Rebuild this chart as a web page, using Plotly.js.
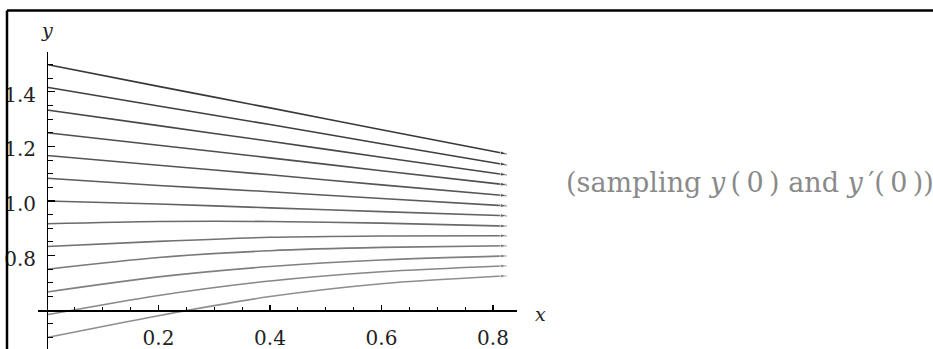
<!DOCTYPE html>
<html>
<head>
<meta charset="utf-8">
<script src="https://cdn.plot.ly/plotly-3.0.1.min.js"></script>
<style>html,body{margin:0;padding:0;background:#fff;}#chart{width:933px;height:349px;}</style>
</head>
<body>
<div id="chart"></div>
<script>
// sample x positions of each solution curve
const xs = [0, 0.2, 0.4, 0.6, 0.825];
// solution curves, one per sampled initial condition (top to bottom)
const curve1  = [1.5000, 1.420, 1.341, 1.261, 1.172];
const curve2  = [1.4167, 1.348, 1.280, 1.210, 1.132];
const curve3  = [1.3333, 1.276, 1.219, 1.160, 1.095];
const curve4  = [1.2500, 1.204, 1.158, 1.111, 1.059];
const curve5  = [1.1667, 1.131, 1.096, 1.059, 1.019];
const curve6  = [1.0833, 1.057, 1.034, 1.009, 0.982];
const curve7  = [1.0000, 0.989, 0.975, 0.961, 0.946];
const curve8  = [0.9167, 0.925, 0.925, 0.919, 0.908];
const curve9  = [0.8333, 0.852, 0.867, 0.872, 0.873];
const curve10 = [0.7500, 0.793, 0.818, 0.830, 0.836];
const curve11 = [0.6667, 0.722, 0.760, 0.784, 0.799];
const curve12 = [0.5833, 0.654, 0.707, 0.741, 0.763];
const curve13 = [0.5000, 0.580, 0.650, 0.697, 0.726];
const curves = [curve1, curve2, curve3, curve4, curve5, curve6, curve7,
                curve8, curve9, curve10, curve11, curve12, curve13];
const xTicks = [0.2, 0.4, 0.6, 0.8];
const xTickText = ['0.2', '0.4', '0.6', '0.8'];
const yTicks = [0.8, 1.0, 1.2, 1.4];
const yTickText = ['0.8', '1.0', '1.2', '1.4'];
const xAxisCross = 0.6;
const caption = '(sampling <i>y</i>\u2009(\u20090\u2009) and <i>y</i>\u2009\u2032(\u20090\u2009))';

const W = 933, H = 349;
const serif = 'DejaVu Serif, Liberation Serif, serif';
const yRange = [0.4579, 1.5458];
const yDomTop = (H - 52) / H;
const xPos = yDomTop * (xAxisCross - yRange[0]) / (yRange[1] - yRange[0]);

const traces = curves.map((c, i) => {
  const g = Math.round(0x38 + (0x8e - 0x38) * i / (curves.length - 1));
  const col = `rgb(${g},${g},${g})`;
  return {
    x: xs, y: c, type: 'scatter', mode: 'lines+markers',
    line: {color: col, width: 1.6, shape: 'spline', smoothing: 0.8},
    marker: {symbol: 'arrow', angleref: 'previous', color: col,
             size: c.map((v, k) => k === c.length - 1 ? 7 : 0)},
    hoverinfo: 'skip', showlegend: false, cliponaxis: true
  };
});

const layout = {
  width: W, height: H,
  margin: {l: 0, r: 0, t: 0, b: 0},
  paper_bgcolor: '#ffffff', plot_bgcolor: 'rgba(0,0,0,0)',
  showlegend: false,
  xaxis: {
    domain: [38 / W, 517 / W],
    range: [-0.01614, 0.84305],
    anchor: 'free', position: xPos,
    showline: true, linecolor: '#000', linewidth: 1.3,
    showgrid: false, zeroline: false,
    tickmode: 'array', tickvals: xTicks, ticktext: xTickText,
    ticks: 'inside', ticklen: 5, tickwidth: 1.2, tickcolor: '#000',
    minor: {ticks: 'inside', ticklen: 3, tickwidth: 1, tickcolor: '#000', dtick: 0.05, tick0: 0, showgrid: false},
    ticklabelstandoff: 9,
    tickfont: {family: serif, size: 20, color: '#222'}
  },
  yaxis: {
    domain: [0, yDomTop],
    range: yRange,
    anchor: 'free', position: 47 / W,
    showline: true, linecolor: '#000', linewidth: 1.3,
    showgrid: false, zeroline: false,
    tickmode: 'array', tickvals: yTicks, ticktext: yTickText,
    ticks: 'inside', ticklen: 7, tickwidth: 1.2, tickcolor: '#000',
    minor: {ticks: 'inside', ticklen: 4.5, tickwidth: 1, tickcolor: '#000', dtick: 0.05, tick0: 0, showgrid: false},
    ticklabelstandoff: 7, ticklabelshift: 3,
    tickfont: {family: serif, size: 20, color: '#222'}
  },
  shapes: [
    {type: 'line', xref: 'paper', yref: 'paper', x0: 7 / W, x1: 1, y0: (H - 10.5) / H, y1: (H - 10.5) / H,
     line: {color: '#000', width: 2.5}},
    {type: 'line', xref: 'paper', yref: 'paper', x0: 7 / W, x1: 7 / W, y0: 0, y1: (H - 10.5) / H,
     line: {color: '#000', width: 2.5}}
  ],
  annotations: [
    {xref: 'paper', yref: 'paper', x: 47 / W, y: (H - 30) / H, text: '<i>y</i>', showarrow: false,
     font: {family: serif, size: 19, color: '#222'}, xanchor: 'center', yanchor: 'middle'},
    {xref: 'paper', yref: 'paper', x: 540 / W, y: (H - 314) / H, text: '<i>x</i>', showarrow: false,
     font: {family: serif, size: 19, color: '#222'}, xanchor: 'center', yanchor: 'middle'},
    {xref: 'paper', yref: 'paper', x: 564 / W, y: (H - 182) / H, text: caption, showarrow: false,
     font: {family: serif, size: 27, color: '#8a8a8a'}, xanchor: 'left', yanchor: 'middle'}
  ]
};

Plotly.newPlot('chart', traces, layout, {staticPlot: true, displayModeBar: false});
</script>
</body>
</html>
